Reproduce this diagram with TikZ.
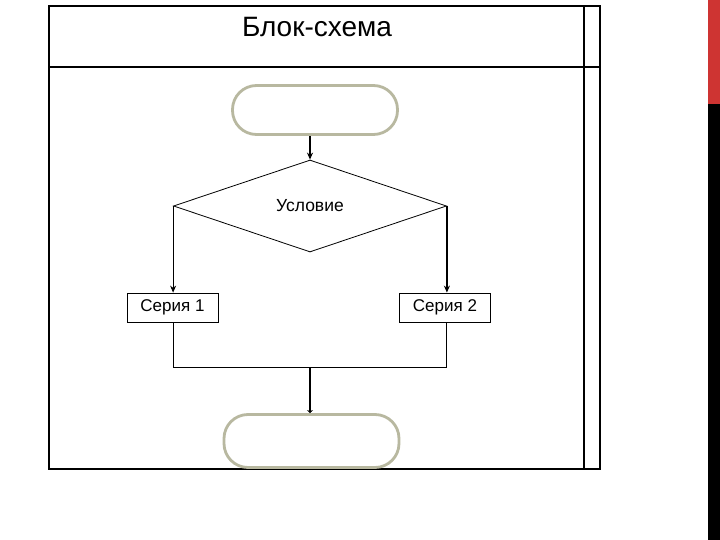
\documentclass[tikz,border=0pt]{standalone}
\usepackage{fontspec}
\setmainfont{Liberation Sans}
\usetikzlibrary{shapes.geometric,arrows.meta}
\definecolor{termgray}{RGB}{184,184,160}
\definecolor{barred}{RGB}{206,52,50}
\tikzset{
  term/.style={draw=termgray, line width=2.8pt, fill=white, rounded corners=24pt, minimum width=165pt, minimum height=49pt, inner sep=0pt},
  decision/.style={diamond, draw, line width=0.8pt, minimum width=273pt, minimum height=92pt, inner sep=0pt, font=\fontsize{17.5}{20}\selectfont},
  series/.style={draw, line width=0.8pt, minimum width=91pt, minimum height=29pt, inner sep=0pt, font=\fontsize{17}{20}\selectfont},
  conn/.style={line width=0.9pt},
  arr/.style={line width=1.1pt, -{Stealth[length=7pt,width=6pt]}},
}
\begin{document}
\begin{tikzpicture}[x=1pt,y=-1pt]
\useasboundingbox (0,0) rectangle (720,540);
% side bars
\fill[barred] (708,0) rectangle (720,104);
\fill[black] (708,104) rectangle (720,540);
% frame
\draw[line width=2.6pt] (49,6) rectangle (600,469);
\draw[line width=1.2pt] (49,67) -- (600,67);
\draw[line width=1.2pt] (584,6) -- (584,469);
\node[font=\fontsize{28}{32}\selectfont] (title) at (317,27.5) {Блок-схема};
% nodes
\node[term] (start) at (315,110) {};
\node[decision] (cond) at (310,206) {Условие};
\node[series] (s1) at (172.5,307.5) {Серия 1};
\node[series] (s2) at (445,307.5) {Серия 2};
\node[term, minimum width=175pt, minimum height=53pt] (end) at (311.5,441) {};
% connectors
\draw[arr] (cond.north |- start.south) -- (cond.north);
\draw[arr, line width=0.9pt] (cond.west) -- (cond.west |- s1.north);
\draw[arr, line width=1.4pt] (cond.east) -- (cond.east |- s2.north);
\coordinate (join) at (310,367);
\draw[conn] (s1.south -| cond.west) |- (join);
\draw[conn] (s2.south -| cond.east) |- (join);
\draw[line width=1.8pt, -{Stealth[length=3pt,width=6pt]}] (join) -- (join |- end.north);
\end{tikzpicture}
\end{document}
